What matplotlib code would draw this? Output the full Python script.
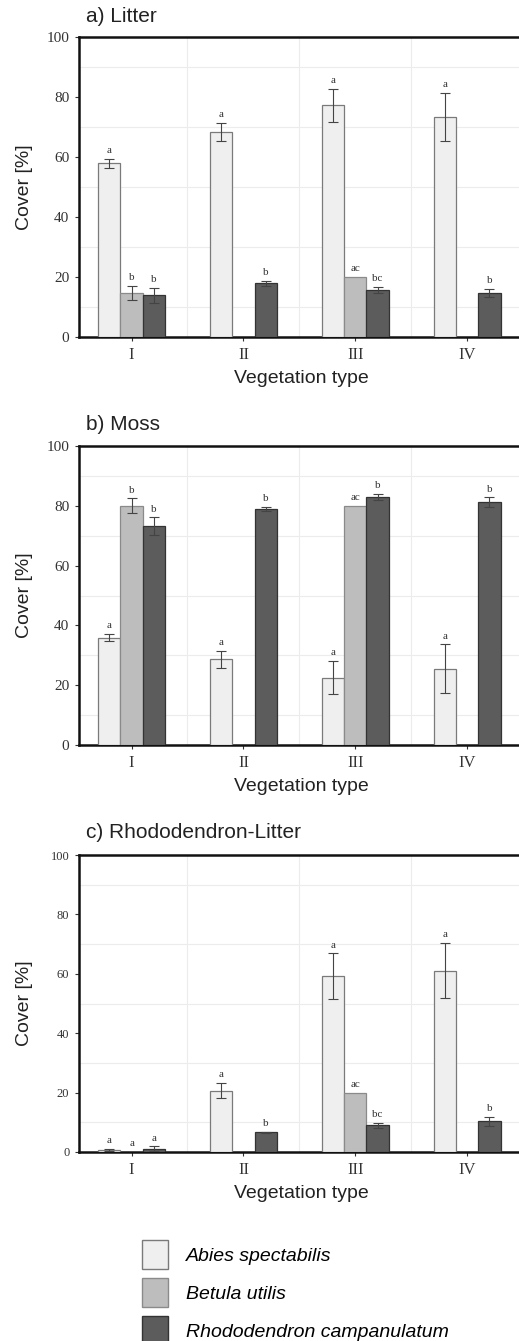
import numpy as np
import matplotlib
matplotlib.use("Agg")
import matplotlib.pyplot as plt
from matplotlib.patches import Patch

# vegetation types
types = ["I", "II", "III", "IV"]
species = ["Abies spectabilis", "Betula utilis", "Rhododendron campanulatum"]
colors = ["#efefef", "#bdbdbd", "#5c5c5c"]
edges = ["#7a7a7a", "#8a8a8a", "#333333"]

# a) Litter
litter_abies = [58.0, 68.3, 77.2, 73.5]
litter_abies_err = [1.5, 3.1, 5.6, 8.0]
litter_betula = [14.8, np.nan, 20.0, np.nan]
litter_betula_err = [2.3, np.nan, np.nan, np.nan]
litter_rhodo = [14.0, 17.9, 15.7, 14.6]
litter_rhodo_err = [2.5, 0.8, 1.1, 1.4]
litter_letters = [["a", "a", "a", "a"], ["b", "", "ac", ""], ["b", "b", "bc", "b"]]

# b) Moss
moss_abies = [35.9, 28.6, 22.5, 25.5]
moss_abies_err = [1.2, 3.0, 5.6, 8.2]
moss_betula = [80.0, np.nan, 80.0, np.nan]
moss_betula_err = [2.5, np.nan, np.nan, np.nan]
moss_rhodo = [73.2, 78.9, 83.0, 81.3]
moss_rhodo_err = [3.0, 0.7, 1.1, 1.6]
moss_letters = [["a", "a", "a", "a"], ["b", "", "ac", ""], ["b", "b", "b", "b"]]

# c) Rhododendron-Litter
rl_abies = [0.8, 20.7, 59.2, 61.1]
rl_abies_err = [0.3, 2.6, 7.7, 9.3]
rl_betula = [0.0, np.nan, 20.0, np.nan]
rl_betula_err = [np.nan, np.nan, np.nan, np.nan]
rl_rhodo = [1.1, 6.6, 9.0, 10.4]
rl_rhodo_err = [0.8, 0.3, 0.9, 1.5]
rl_letters = [["a", "a", "a", "a"], ["a", "", "ac", ""], ["a", "b", "bc", "b"]]

panels = [
    ("a) Litter", [litter_abies, litter_betula, litter_rhodo],
     [litter_abies_err, litter_betula_err, litter_rhodo_err], litter_letters),
    ("b) Moss", [moss_abies, moss_betula, moss_rhodo],
     [moss_abies_err, moss_betula_err, moss_rhodo_err], moss_letters),
    ("c) Rhododendron-Litter", [rl_abies, rl_betula, rl_rhodo],
     [rl_abies_err, rl_betula_err, rl_rhodo_err], rl_letters),
]

W, H = 519, 1341
fig = plt.figure(figsize=(W / 100, H / 100), dpi=100)
fig.patch.set_facecolor("white")

# axes boxes in pixels: (top, bottom)
boxes = [(37, 337), (446, 745), (855, 1152)]
title_y = [16, 424, 832]
left_px, right_px = 79, 523

serif = "Liberation Serif"
sans = "Liberation Sans"

x = np.arange(len(types))
bw = 0.2
offsets = [-bw, 0, bw]

for i, (title, vals, errs, letters) in enumerate(panels):
    top, bot = boxes[i]
    ax = fig.add_axes([left_px / W, 1 - bot / H, (right_px - left_px) / W, (bot - top) / H])
    ax.set_xlim(-0.47, 3.5)
    ax.set_ylim(0, 100)

    for j in range(3):
        v = np.array(vals[j], dtype=float)
        e = np.array(errs[j], dtype=float)
        keep = ~np.isnan(v) & (np.nan_to_num(v) > 0)
        ax.bar((x + offsets[j])[keep], v[keep], width=bw, color=colors[j],
               edgecolor=edges[j], linewidth=0.9, zorder=3)
        ax.errorbar((x + offsets[j])[keep], v[keep], yerr=e[keep], fmt="none",
                    ecolor="#444444", elinewidth=0.8, capsize=3.5, capthick=0.8, zorder=4)
        for k in range(len(types)):
            if letters[j][k] == "":
                continue
            yv = 0 if np.isnan(v[k]) else v[k]
            ye = 0 if np.isnan(e[k]) else e[k]
            ax.text(x[k] + offsets[j], yv + ye + 1.2, letters[j][k], ha="center",
                    va="bottom", fontsize=8, family=serif, color="#333333", zorder=5)

    ax.set_yticks(np.arange(0, 101, 20))
    ax.set_yticks(np.arange(0, 101, 10), minor=True)
    ax.set_xticks(x)
    ax.set_xticklabels(types, family=serif, fontsize=12, color="#333333")
    ax.set_xticks(x[:-1] + 0.5, minor=True)
    ytick_size = 9 if i == 2 else 11
    for lab in ax.get_yticklabels():
        lab.set_family(serif)
        lab.set_fontsize(ytick_size)
        lab.set_color("#333333")
    ax.grid(True, which="minor", color="#ececec", linewidth=0.8, zorder=0)
    ax.grid(False, which="major")
    ax.tick_params(axis="x", which="minor", length=0)
    ax.tick_params(axis="y", which="minor", length=0)
    ax.tick_params(axis="both", which="major", direction="out", length=3, width=0.8,
                   color="#333333", pad=4)

    for side in ["left", "top", "bottom"]:
        ax.spines[side].set_linewidth(1.8)
        ax.spines[side].set_color("#111111")
    ax.spines["right"].set_visible(False)

    ax.set_ylabel("Cover [%]", family=sans, fontsize=14, color="#222222")
    ax.yaxis.set_label_coords((33 - left_px) / (right_px - left_px), 0.5)
    ax.set_xlabel("Vegetation type", family=sans, fontsize=14, color="#222222", labelpad=5.5)

    fig.text(86 / W, 1 - title_y[i] / H, title, family=sans, fontsize=15,
             color="#222222", ha="left", va="center")

handles = [Patch(facecolor=colors[j], edgecolor=edges[j], linewidth=1.0) for j in range(3)]
fig.legend(handles, species, loc="upper left", bbox_to_anchor=(142 / W, 1 - 1240 / H),
           frameon=False, borderpad=0, borderaxespad=0, handlelength=1.34,
           handleheight=1.92, handletextpad=0.93, labelspacing=0.46,
           prop={"family": sans, "style": "italic", "size": 14})

fig.savefig("out.png", dpi=100, facecolor="white")
